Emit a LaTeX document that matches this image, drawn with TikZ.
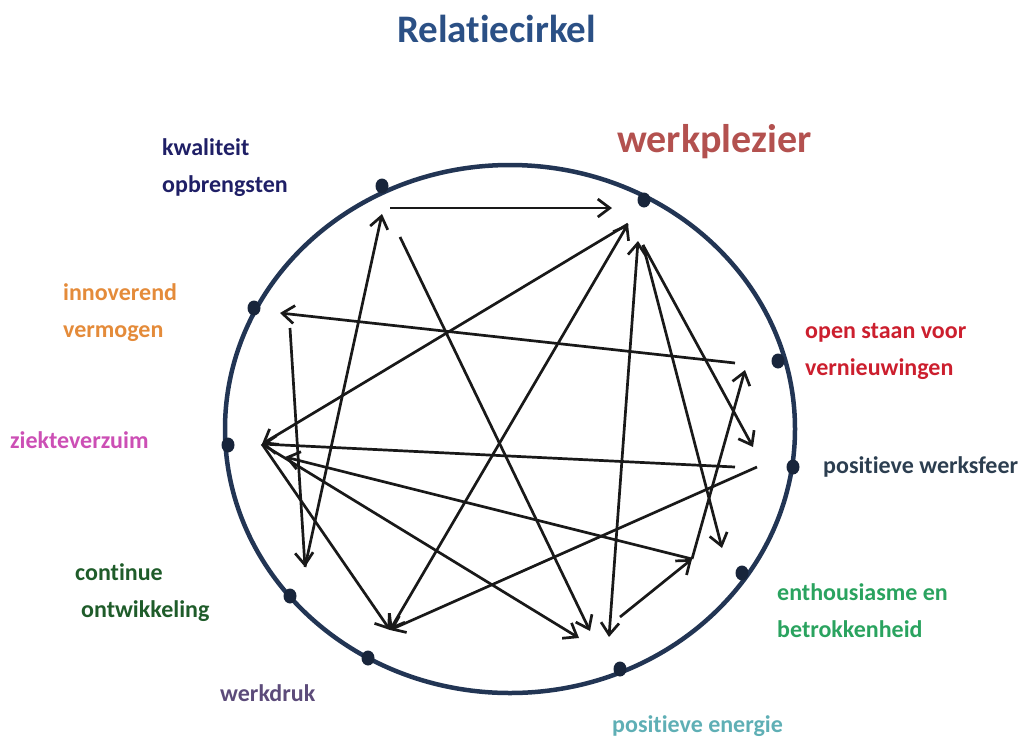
\documentclass[tikz,border=0pt]{standalone}
\usepackage{fontspec}
\setmainfont{Carlito}[Ligatures=NoCommon]
\usetikzlibrary{arrows.meta,shapes.geometric}
\definecolor{ringblue}{HTML}{223554}
\definecolor{titleblue}{HTML}{2B5085}
\definecolor{wprose}{HTML}{B3514F}
\definecolor{kwnavy}{HTML}{1F1F66}
\definecolor{innorange}{HTML}{E48B3A}
\definecolor{openred}{HTML}{CC1F2E}
\definecolor{ziekpink}{HTML}{CC4FB5}
\definecolor{sfeerslate}{HTML}{2C3E50}
\definecolor{contgreen}{HTML}{1F5C2A}
\definecolor{enthgreen}{HTML}{2AA35F}
\definecolor{drukpurple}{HTML}{5C4B7A}
\definecolor{energieteal}{HTML}{5FAFB5}

\begin{document}
\begin{tikzpicture}[x=1pt,y=-1pt,
		>={Straight Barb[length=12pt,width=18pt]},
		lbl/.style={font=\bfseries\fontsize{24}{37}\selectfont, anchor=base west, align=left, inner sep=0pt},
		ringdot/.style={ellipse, fill=ringblue!70!black, inner sep=0pt, minimum width=13pt, minimum height=15pt},
		relarrow/.style={draw=black!90, line width=2.7pt, ->}
		]
		\useasboundingbox (0,0) rectangle (1031,737);
		
		\node[lbl, font=\bfseries\fontsize{39}{44}\selectfont, text=titleblue] (title) at (397,42) {Relatiecirkel};
		
		\draw[ringblue, line width=4.5pt] (510,429) ellipse [x radius=285, y radius=264];
		
		\node[ringdot] (dkw) at (382,186) {};
		\node[ringdot] (dwp) at (644,200) {};
		\node[ringdot] (dinn) at (254,308) {};
		\node[ringdot] (dopen) at (778,361) {};
		\node[ringdot] (dziek) at (228,445) {};
		\node[ringdot] (dsfeer) at (793,467) {};
		\node[ringdot] (dcont) at (290,596) {};
		\node[ringdot] (denth) at (742,573) {};
		\node[ringdot] (ddruk) at (368,658) {};
		\node[ringdot] (denergie) at (620,669) {};
		
		\node[lbl, font=\bfseries\fontsize{40}{44}\selectfont, text=wprose] (wplabel) at (617,152) {werkplezier};
		\node[lbl, text=kwnavy] (kwlabel) at (162,192) {kwaliteit\\opbrengsten};
		\node[lbl, text=innorange] (innlabel) at (63,337) {innoverend\\vermogen};
		\node[lbl, text=openred] (openlabel) at (805,375) {open staan voor\\vernieuwingen};
		\node[lbl, text=ziekpink] (zieklabel) at (10,448) {ziekteverzuim};
		\node[lbl, text=sfeerslate] (sfeerlabel) at (823,473) {positieve werksfeer};
		\node[lbl, text=contgreen] (contlabel) at (75,617) {continue\\\hspace*{6pt}ontwikkeling};
		\node[lbl, text=enthgreen] (enthlabel) at (777,637) {enthousiasme en\\betrokkenheid};
		\node[lbl, text=drukpurple] (druklabel) at (220,701) {werkdruk};
		\node[lbl, text=energieteal] (energielabel) at (612,732) {positieve energie};
		
		\coordinate (kw) at (382,214);
		\coordinate (kwr) at (390,208);
		\coordinate (kwd) at (400,237);
		\coordinate (wp) at (628,224);
		\coordinate (wpl) at (612,208);
		\coordinate (wpb) at (638,241);
		\coordinate (wpr) at (643,245);
		\coordinate (inn) at (280,313);
		\coordinate (innd) at (290,328);
		\coordinate (open) at (745,370);
		\coordinate (openl) at (735,363);
		\coordinate (ziek) at (262,444);
		\coordinate (ziekb) at (285,457);
		\coordinate (sfeer) at (753,447);
		\coordinate (sfeerl) at (735,467);
		\coordinate (sfeerr) at (757,467);
		\coordinate (cont) at (305,567);
		\coordinate (enth) at (722,548);
		\coordinate (enthx) at (692,559);
		\coordinate (druk) at (390,630);
		\coordinate (energie) at (609,637);
		\coordinate (energiea) at (590,631);
		\coordinate (energieb) at (579,638);
		\coordinate (energier) at (620,617);
		
		\draw[relarrow] (kwr) -- (wpl);
		\draw[relarrow] (cont) -- (kw);
		\draw[relarrow] (kwd) -- (energiea);
		\draw[relarrow] (openl) -- (inn);
		\draw[relarrow] (innd) -- (cont);
		\draw[relarrow] (wp) -- (ziek);
		\draw[relarrow, <->] (wp) -- (druk);
		\draw[relarrow, <->] (wpb) -- (energie);
		\draw[relarrow] (wpr) -- (enth);
		\draw[relarrow] (wpr) -- (sfeer);
		\draw[relarrow] (sfeerl) -- (ziek);
		\draw[relarrow] (sfeerr) -- (druk);
		\draw[relarrow] (ziek) -- (druk);
		\draw[relarrow] (ziek) -- (energieb);
		\draw[relarrow] (enthx) -- (ziekb);
		\draw[relarrow] (energier) -- (enthx);
		\draw[relarrow] (enthx) -- (open);
	\end{tikzpicture}
\end{document}
